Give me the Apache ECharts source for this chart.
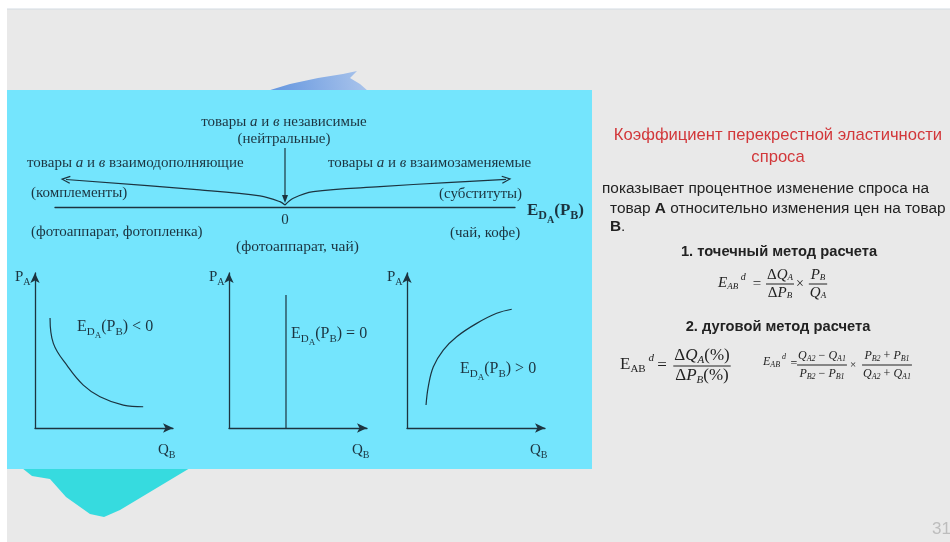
<!DOCTYPE html>
<html>
<head>
<meta charset="utf-8">
<script src="https://cdn.jsdelivr.net/npm/echarts@6/dist/echarts.min.js"></script>
<style>
html, body { margin: 0; padding: 0; background: #fff; }
#chart { width: 950px; height: 542px; }
</style>
</head>
<body>
<div id="chart"></div>
<script>
// top scale: curves of E_DA(PB) going left (complements) and right (substitutes)
const complementCurve = [[0, 0.035], [-0.022, 0.093], [-0.109, 0.193], [-0.37, 0.298], [-0.952, 0.48]]
const substituteCurve = [[0, 0.035], [0.036, 0.152], [0.123, 0.268], [0.413, 0.356], [0.703, 0.426], [0.961, 0.483]]
const neutralArrow = [[0, 1.03], [0, 0.14]]
// three small plots P_A (y) against Q_B (x)
const negCurve = [[1.09, 7.1], [1.33, 5.46], [2.39, 3.95], [3.5, 2.77], [4.71, 2.02], [6.4, 1.48], [7.84, 1.37]]
const zeroLine = [[4.13, 0], [4.13, 8.58]]
const posCurve = [[1.38, 1.48], [1.54, 2.66], [1.91, 3.95], [2.63, 5.03], [3.6, 5.89], [5.05, 6.75], [6.5, 7.4], [7.59, 7.66]]
const signs = ['< 0', '= 0', '> 0']

const ink = '#1c3440'
const dark = '#222'
const serif = '"Liberation Serif", "DejaVu Serif", serif'
const sans = '"Liberation Sans", Arial, sans-serif'
const F = (size, style) => (style ? style + ' ' : '') + size + 'px ' + serif
const S = (size, style) => (style ? style + ' ' : '') + size + 'px ' + sans

const ctx = document.createElement('canvas').getContext('2d')
function tw (t, f) {
  ctx.font = f
  return ctx.measureText(t).width
}
function seqWidth (parts) {
  return parts.reduce((s, p) => s + tw(p[0], p[1]), 0)
}
// a run of text pieces, each with own font and vertical shift
function seq (x, y, parts, align, color) {
  let cx = align === 'center' ? x - seqWidth(parts) / 2 : x
  return parts.map(p => {
    const el = { type: 'text', x: cx, y: y + (p[2] || 0), z: 100, style: { text: p[0], font: p[1], fill: color || ink, verticalAlign: 'middle' } }
    cx += tw(p[0], p[1])
    return el
  })
}
function frac (cx, cy, num, den, color, gap) {
  const w = Math.max(seqWidth(num), seqWidth(den)) + 2
  return [].concat(
    seq(cx, cy - gap, num, 'center', color),
    [{ type: 'line', z: 100, shape: { x1: cx - w / 2, y1: cy, x2: cx + w / 2, y2: cy }, style: { stroke: color, lineWidth: 1 } }],
    seq(cx, cy + gap, den, 'center', color)
  )
}
function plain (x, y, text, font, color, align) {
  return { type: 'text', x, y, z: 100, style: { text, font, fill: color || ink, align: align || 'left', verticalAlign: 'middle' } }
}
function goods (x, y, rest, align) {
  return {
    type: 'text', x, y, z: 100,
    style: {
      text: '{n|товары }{i|а}{n| и }{i|в}{n| ' + rest + '}',
      rich: { n: { font: F(15), fill: ink }, i: { font: F(15, 'italic'), fill: ink } },
      align: align || 'left', verticalAlign: 'middle'
    }
  }
}
function edLabel (x, y, tail, size, weight) {
  const b = weight ? weight + ' ' : ''
  return seq(x, y, [
    ['E', b + size + 'px ' + serif], ['D', b + Math.round(size * 0.68) + 'px ' + serif, 5], ['A', b + Math.round(size * 0.56) + 'px ' + serif, 9],
    ['(P', b + size + 'px ' + serif], ['B', b + Math.round(size * 0.68) + 'px ' + serif, 5], [')' + tail, b + size + 'px ' + serif]
  ])
}

const chevron = 'path://M0,10L5,0L10,10'
function withArrow (pts, sym, size, rot) {
  return pts.map((p, i) => i === pts.length - 1 ? { value: p, symbol: sym, symbolSize: size, symbolRotate: rot } : p)
}

const plotLefts = [35, 229, 407]
const grids = [{ left: 55, top: 144, width: 460, height: 63 }].concat(plotLefts.map(l => ({ left: l, top: 273, width: 138, height: 155 })))
const axisBase = { axisTick: { show: false }, axisLabel: { show: false }, splitLine: { show: false } }
const xAxes = [{
  gridIndex: 0, type: 'value', min: -1, max: 1, interval: 1,
  axisLine: { show: true, lineStyle: { color: ink, width: 1.3 } },
  axisTick: { show: false }, splitLine: { show: false },
  axisLabel: { formatter: v => v === 0 ? '0' : '', color: ink, fontFamily: serif, fontSize: 15, margin: 6 }
}].concat(plotLefts.map((l, i) => Object.assign({
  gridIndex: i + 1, type: 'value', min: 0, max: 10,
  axisLine: { show: true, onZero: false, symbol: ['none', 'arrow'], symbolSize: [7, 10], lineStyle: { color: ink, width: 1.3 } }
}, axisBase)))
const yAxes = [{ gridIndex: 0, type: 'value', min: 0, max: 1.1, show: false }].concat(plotLefts.map((l, i) => Object.assign({
  gridIndex: i + 1, type: 'value', min: 0, max: 10,
  axisLine: { show: true, onZero: false, symbol: ['none', 'arrow'], symbolSize: [7, 10], lineStyle: { color: ink, width: 1.3 } }
}, axisBase)))

const lineBase = { type: 'line', symbol: 'none', showSymbol: true, silent: true, lineStyle: { color: ink, width: 1.2 } }
const series = [
  Object.assign({}, lineBase, { xAxisIndex: 0, yAxisIndex: 0, smooth: 0.35, data: withArrow(complementCurve, chevron, [7, 8], 85), itemStyle: { color: 'transparent', borderColor: ink, borderWidth: 1.2 } }),
  Object.assign({}, lineBase, { xAxisIndex: 0, yAxisIndex: 0, smooth: 0.35, data: withArrow(substituteCurve, chevron, [7, 8], -85), itemStyle: { color: 'transparent', borderColor: ink, borderWidth: 1.2 } }),
  Object.assign({}, lineBase, { xAxisIndex: 0, yAxisIndex: 0, data: withArrow(neutralArrow, 'triangle', [6, 8], 180), itemStyle: { color: ink } }),
  Object.assign({}, lineBase, { xAxisIndex: 1, yAxisIndex: 1, smooth: 0.4, data: negCurve }),
  Object.assign({}, lineBase, { xAxisIndex: 2, yAxisIndex: 2, data: zeroLine }),
  Object.assign({}, lineBase, { xAxisIndex: 3, yAxisIndex: 3, smooth: 0.4, data: posCurve })
]

let els = [
  { type: 'rect', z: -100, shape: { x: 7, y: 9, width: 943, height: 533 }, style: { fill: '#e9e9e9' } },
  { type: 'line', z: -99, shape: { x1: 7, y1: 9, x2: 950, y2: 9 }, style: { stroke: '#d3dbe2', lineWidth: 1 } },
  {
    type: 'polygon', z: -98,
    shape: { points: [[267, 91], [290, 84], [318, 78], [343, 74], [357, 71], [350, 78], [360, 84], [368, 91]] },
    style: { opacity: 0.8, fill: new echarts.graphic.LinearGradient(0, 1, 1, 0, [{ offset: 0, color: '#3f7fdc' }, { offset: 1, color: '#9cbcec' }]) }
  },
  {
    type: 'polygon', z: -98,
    shape: { points: [[22, 468], [32, 476], [50, 479], [66, 497], [90, 514], [104, 517], [120, 510], [190, 468]] },
    style: { opacity: 0.9, fill: '#22d9de' }
  },
  { type: 'rect', z: -97, shape: { x: 7, y: 90, width: 585, height: 379 }, style: { fill: '#74e5fd' } }
]

// top scale texts
els.push(goods(284, 122, 'независимые', 'center'))
els.push(plain(284, 139, '(нейтральные)', F(15), ink, 'center'))
els.push(goods(27, 163, 'взаимодополняющие'))
els.push(plain(31, 193, '(комплементы)', F(15)))
els.push(plain(31, 232, '(фотоаппарат, фотопленка)', F(15)))
els.push(plain(236, 247, '(фотоаппарат, чай)', F(15.5)))
els.push(goods(328, 163, 'взаимозаменяемые'))
els.push(plain(439, 194, '(субституты)', F(15)))
els.push(plain(450, 233, '(чай, кофе)', F(15)))
els = els.concat(edLabel(527, 211, '', 17, 'bold'))

// small plots: axis names and labels
plotLefts.forEach((l, i) => {
  els = els.concat(seq(l - 20, 277, [['P', F(15)], ['A', F(10), 5]]))
  els = els.concat(seq(l + 123, 450, [['Q', F(15)], ['B', F(10), 5]]))
})
els = els.concat(edLabel(77, 327, ' ' + signs[0], 16))
els = els.concat(edLabel(291, 334, ' ' + signs[1], 16))
els = els.concat(edLabel(460, 369, ' ' + signs[2], 16))

// right side text
const red = '#d2373a'
const body = S(15.4)
const bodyB = S(15.4, 'bold')
els.push(plain(778, 135, 'Коэффициент перекрестной эластичности', S(16.6), red, 'center'))
els.push(plain(778, 157, 'спроса', S(16.6), red, 'center'))
els.push(plain(602, 189, 'показывает процентное изменение спроса на', body, dark))
els.push({
  type: 'text', x: 610, y: 209, z: 100,
  style: {
    text: '{n|товар }{b|А}{n| относительно изменения цен на товар}',
    rich: { n: { font: body, fill: dark }, b: { font: bodyB, fill: dark } },
    verticalAlign: 'middle'
  }
})
els.push({
  type: 'text', x: 610, y: 227, z: 100,
  style: { text: '{b|В}{n|.}', rich: { n: { font: body, fill: dark }, b: { font: bodyB, fill: dark } }, verticalAlign: 'middle' }
})
els.push(plain(779, 252, '1. точечный метод расчета', S(14.7, 'bold'), dark, 'center'))
els.push(plain(778, 327, '2. дуговой метод расчета', S(14.7, 'bold'), dark, 'center'))

// formula 1
els = els.concat(seq(718, 283, [['E', F(15, 'italic')], ['AB', F(9, 'italic'), 4], [' d', F(10, 'italic'), -6]], 'left', dark))
els = els.concat(seq(757, 284, [['=', F(15)]], 'center', dark))
els = els.concat(frac(780, 284, [['Δ', F(15)], ['Q', F(15, 'italic')], ['A', F(9, 'italic'), 3]], [['Δ', F(15)], ['P', F(15, 'italic')], ['B', F(9, 'italic'), 3]], dark, 9))
els = els.concat(seq(800, 284, [['×', F(14)]], 'center', dark))
els = els.concat(frac(818, 284, [['P', F(15, 'italic')], ['B', F(9, 'italic'), 3]], [['Q', F(15, 'italic')], ['A', F(9, 'italic'), 3]], dark, 9))

// formula 2a
els = els.concat(seq(620, 365, [['E', F(17)], ['AB', F(11), 4], [' d', F(11, 'italic'), -7]], 'left', dark))
els = els.concat(seq(662, 366, [['=', F(17)]], 'center', dark))
els = els.concat(frac(702, 366, [['Δ', F(17)], ['Q', F(17, 'italic')], ['A', F(11, 'italic'), 4], ['(%)', F(17)]], [['Δ', F(17)], ['P', F(17, 'italic')], ['B', F(11, 'italic'), 4], ['(%)', F(17)]], dark, 10))

// formula 2b
const sub = F(8, 'italic')
const big = F(12, 'italic')
els = els.concat(seq(763, 362, [['E', big], ['AB', sub, 3], [' d', sub, -5]], 'left', dark))
els = els.concat(seq(794, 364, [['=', F(12)]], 'center', dark))
els = els.concat(frac(822, 365, [['Q', big], ['A2', sub, 3], [' − ', F(12)], ['Q', big], ['A1', sub, 3]], [['P', big], ['B2', sub, 3], [' − ', F(12)], ['P', big], ['B1', sub, 3]], dark, 9))
els = els.concat(seq(853, 365, [['×', F(11)]], 'center', dark))
els = els.concat(frac(887, 365, [['P', big], ['B2', sub, 3], [' + ', F(12)], ['P', big], ['B1', sub, 3]], [['Q', big], ['A2', sub, 3], [' + ', F(12)], ['Q', big], ['A1', sub, 3]], dark, 9))

els.push(plain(951, 529, '31', S(17), '#bdbdbd', 'right'))

const chart = echarts.init(document.getElementById('chart'))
chart.setOption({
  animation: false,
  backgroundColor: '#fff',
  grid: grids,
  xAxis: xAxes,
  yAxis: yAxes,
  series: series,
  graphic: { elements: els }
})
</script>
</body>
</html>
